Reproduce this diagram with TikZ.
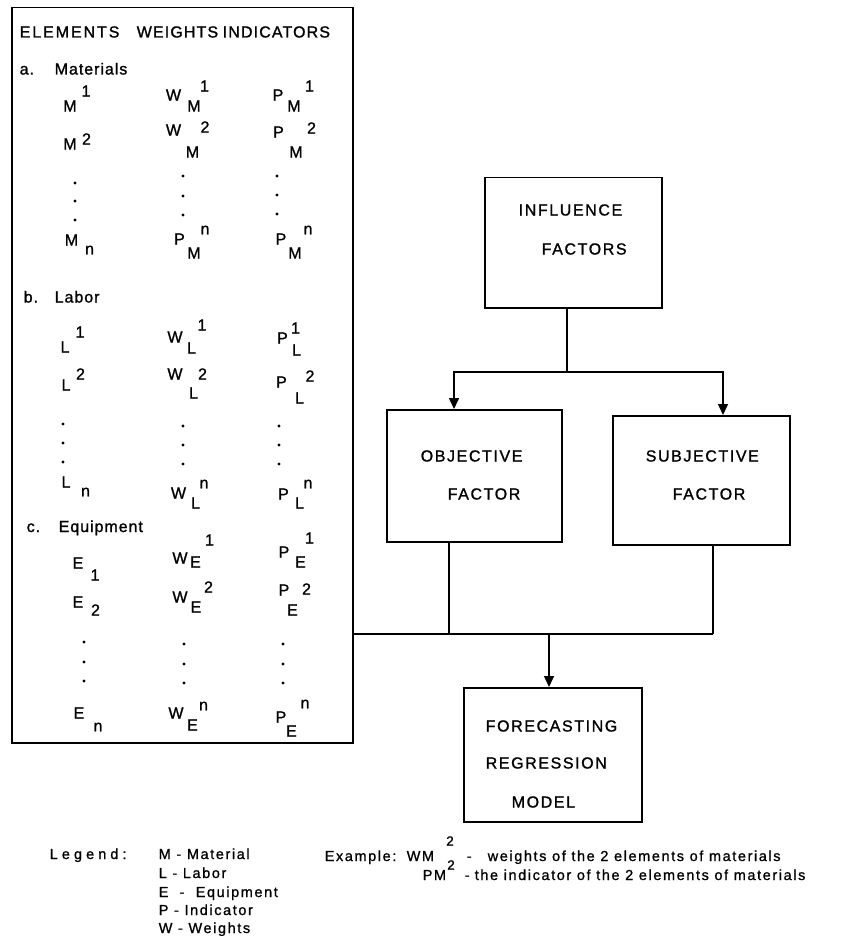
\documentclass[tikz,border=0pt]{standalone}
\usepackage{fontspec}
\setmainfont{Liberation Sans}
\newfontfamily\glfont[FakeBold=1.2]{Liberation Sans}
\newfontfamily\tabfont[LetterSpace=6,FakeBold=1.2]{Liberation Sans}
\newfontfamily\hdrfont[LetterSpace=7,FakeBold=1.2]{Liberation Sans}
\newfontfamily\hdrwide[LetterSpace=12,FakeBold=1.2]{Liberation Sans}
\newfontfamily\boxfont[LetterSpace=10,FakeBold=1.2]{Liberation Sans}
\newfontfamily\legfont[LetterSpace=11,FakeBold=1]{Liberation Sans}
\newfontfamily\legwide[LetterSpace=28,FakeBold=1]{Liberation Sans}
\usetikzlibrary{arrows.meta}
\begin{document}
\begin{tikzpicture}[x=1pt,y=-1pt,line width=1.5pt,
  box/.style={draw,rectangle,inner sep=0pt,anchor=north west},
  glyph/.style={inner sep=0pt,font=\glfont\fontsize{16}{19}\selectfont},
  word/.style={inner sep=0pt,anchor=base west,font=\tabfont\fontsize{16}{19}\selectfont},
  hdr/.style={inner sep=0pt,anchor=base west,font=\hdrfont\fontsize{16}{19}\selectfont},
  btxt/.style={inner sep=0pt,anchor=base west,font=\boxfont\fontsize{16}{19}\selectfont},
  ltxt/.style={inner sep=0pt,anchor=base west,font=\legfont\fontsize{14.5}{17}\selectfont},
  lsup/.style={inner sep=0pt,font=\glfont\fontsize{13.5}{15}\selectfont},
  tdot/.style={circle,fill,inner sep=0pt,minimum size=3.2pt,draw=none},
  arr/.style={-{Triangle[length=11pt,width=10pt]}}]
\useasboundingbox (0,0) rectangle (852,936);

% ---------- left table ----------
\node[box,minimum width=341pt,minimum height=735pt] (tab) at (11,7) {};
\node[hdr,font=\hdrwide\fontsize{16}{19}\selectfont] (h1) at (19,37.5) {ELEMENTS};
\node[hdr] (h2) at (136,37.5) {WEIGHTS};
\node[hdr] (h3) at (222,37.5) {INDICATORS};

\node[word] (sa) at (19,74.5) {a.};
\node[word] (wa) at (54,74.5) {Materials};
\node[word] (sb) at (23,302.5) {b.};
\node[word] (wb) at (54,302.5) {Labor};
\node[word] (sc) at (26,532) {c.};
\node[word] (wc) at (58,532) {Equipment};

\foreach \x/\y/\t [count=\k] in {
  70/106/M, 86/91/1,
  173.5/95/W, 194/106/M, 204.5/86/1,
  278/95/P, 294/106/M, 309.5/86/1,
  70/144/M, 86.5/139/2,
  173.5/130/W, 205/127/2, 192.5/152/M,
  278.5/132/P, 311.5/128/2, 296/152/M,
  71.5/240/M, 89.5/250/n,
  179.5/239/P, 205/230/n, 194/253/M,
  281/239/P, 308/230/n, 295/253/M,
  65/347/L, 80/332/1,
  175/337/W, 202/325/1, 191.5/348/L,
  282.5/338/P, 295.5/328/1, 296.5/350/L,
  66/385/L, 80.5/374/2,
  175/374/W, 202.5/374/2, 193.5/393/L,
  281.5/382/P, 310/376/2, 299.5/398/L,
  66/482/L, 85.5/492/n,
  178.5/493/W, 204/484/n, 195.5/503/L,
  283.5/494/P, 308/484/n, 299.5/503/L,
  78/563/E, 95/575/1,
  180/558/W, 195.5/562/E, 209.5/540/1,
  284/552/P, 309.5/538/1, 300.5/562/E,
  78/602/E, 95.5/610/2,
  180/597/W, 196/607/E, 208.5/587/2,
  284/590/P, 306.5/589/2, 292.5/610/E,
  79/713/E, 98/727/n,
  176/713/W, 203.5/706/n, 192.5/725/E,
  281/717/P, 305/704/n, 291.5/731/E}
  \node[glyph] (g\k) at (\x,\y) {\t};

\foreach \x/\y [count=\k] in {
  75/183, 75/201, 75/220, 183/176, 183/196, 183/215, 277/176, 277/195, 277/214,
  63/424, 63/443, 63/462, 183/426, 183/445, 183/464, 279/426, 279/445, 279/464,
  84/642, 84/662, 84/681, 184/644, 184/664, 184/683, 283/644, 283/664, 283/683}
  \node[tdot] (d\k) at (\x,\y) {};

% ---------- right flow chart ----------
\node[box,minimum width=177pt,minimum height=130pt] (inf) at (484,177) {};
\node[btxt] (it1) at (518,215.5) {INFLUENCE};
\node[btxt] (it2) at (541,254.5) {FACTORS};

\node[box,minimum width=175pt,minimum height=132pt] (obj) at (386,409) {};
\node[btxt] (ot1) at (420,461.5) {OBJECTIVE};
\node[btxt] (ot2) at (447,499.5) {FACTOR};

\node[box,minimum width=177pt,minimum height=129pt] (subj) at (612,415) {};
\node[btxt] (st1) at (645,461.5) {SUBJECTIVE};
\node[btxt] (st2) at (672,499.5) {FACTOR};

\node[box,minimum width=178pt,minimum height=134pt] (fore) at (463,687) {};
\node[btxt] (ft1) at (485,731.5) {FORECASTING};
\node[btxt] (ft2) at (485,768.5) {REGRESSION};
\node[btxt] (ft3) at (511,807.5) {MODEL};

\coordinate (sp) at (567,372);
\coordinate (ol) at (454,372);
\coordinate (sr) at (723,372);
\draw (sp |- inf.south) -- (sp);
\draw[arr] (sp) -- (ol) -- (ol |- obj.north);
\draw[arr] (sp) -- (sr) -- (sr |- subj.north);

\coordinate (jn) at (549,634);
\coordinate (oj) at (449,634);
\coordinate (sj) at (713,634);
\draw (oj |- obj.south) -- (oj);
\draw (sj |- subj.south) -- (sj);
\draw (tab.east |- jn) -- (sj);
\draw[arr] (jn) -- (jn |- fore.north);

% ---------- legend ----------
\node[inner sep=0pt,anchor=base west,font=\legwide\fontsize{14.5}{17}\selectfont] (lg) at (49,859) {Legend:};
\node[ltxt] (l1) at (158,859) {M - Material};
\node[ltxt] (l2) at (158,878) {L - Labor};
\node[ltxt] (l3) at (158,897) {E~ -~ Equipment};
\node[ltxt] (l4) at (158,915) {P - Indicator};
\node[ltxt] (l5) at (158,933) {W - Weights};

\node[ltxt] (ex) at (324,861) {Example:};
\node[ltxt] (wm) at (406,861) {WM};
\node[lsup] (s1) at (450,841) {2};
\node[lsup] (s2) at (451,865) {2};
\node[ltxt] (dd1) at (466,861) {-};
\node[ltxt] (t1) at (487,861) {weights of the 2 elements of materials};
\node[ltxt] (pm) at (422,880) {PM};
\node[ltxt] (dd2) at (464,880) {-};
\node[ltxt] (t2) at (474,880) {the indicator of the 2 elements of materials};
\end{tikzpicture}
\end{document}
